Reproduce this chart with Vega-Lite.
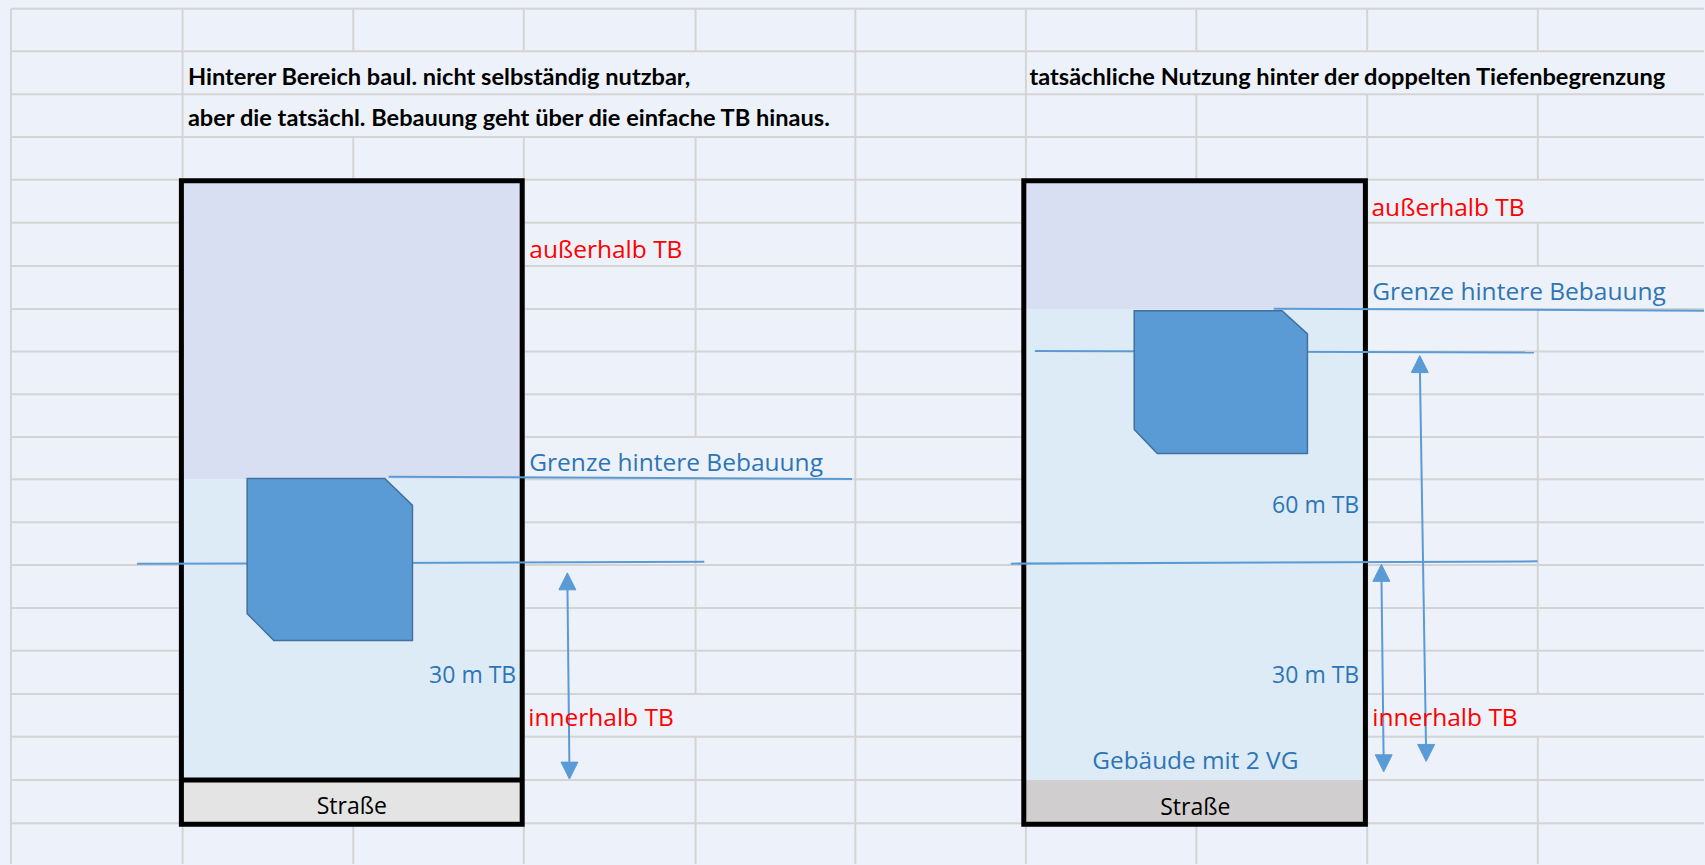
{
  "$schema": "https://vega.github.io/schema/vega-lite/v6.json",
  "width": 1705,
  "height": 865,
  "autosize": {"type": "fit", "contains": "padding"},
  "padding": 0,
  "background": "#edf2fa",
  "config": {"view": {"stroke": null}},
  "datasets": {
    "grid": [
      {"x1": 11, "x2": 1705, "y1": 8.7, "y2": 8.7},
      {"x1": 11, "x2": 1705, "y1": 51.3, "y2": 51.3},
      {"x1": 11, "x2": 1705, "y1": 94.4, "y2": 94.4},
      {"x1": 11, "x2": 1705, "y1": 137.1, "y2": 137.1},
      {"x1": 11, "x2": 1705, "y1": 179.9, "y2": 179.9},
      {"x1": 11, "x2": 1705, "y1": 222.9, "y2": 222.9},
      {"x1": 11, "x2": 1705, "y1": 266.2, "y2": 266.2},
      {"x1": 11, "x2": 1705, "y1": 309.3, "y2": 309.3},
      {"x1": 11, "x2": 1705, "y1": 351.8, "y2": 351.8},
      {"x1": 11, "x2": 1705, "y1": 394.8, "y2": 394.8},
      {"x1": 11, "x2": 1705, "y1": 437.5, "y2": 437.5},
      {"x1": 11, "x2": 1705, "y1": 479.8, "y2": 479.8},
      {"x1": 11, "x2": 1705, "y1": 522.8, "y2": 522.8},
      {"x1": 11, "x2": 1705, "y1": 565.6, "y2": 565.6},
      {"x1": 11, "x2": 1705, "y1": 608.8, "y2": 608.8},
      {"x1": 11, "x2": 1705, "y1": 651.6, "y2": 651.6},
      {"x1": 11, "x2": 1705, "y1": 694.8, "y2": 694.8},
      {"x1": 11, "x2": 1705, "y1": 737.6, "y2": 737.6},
      {"x1": 11, "x2": 1705, "y1": 780.8, "y2": 780.8},
      {"x1": 11, "x2": 1705, "y1": 824.2, "y2": 824.2},
      {"x1": 11, "x2": 11, "y1": 8.7, "y2": 865},
      {"x1": 182.7, "x2": 182.7, "y1": 8.7, "y2": 865},
      {"x1": 353.5, "x2": 353.5, "y1": 8.7, "y2": 51.3},
      {"x1": 353.5, "x2": 353.5, "y1": 137.1, "y2": 865},
      {"x1": 524.1, "x2": 524.1, "y1": 8.7, "y2": 51.3},
      {"x1": 524.1, "x2": 524.1, "y1": 137.1, "y2": 865},
      {"x1": 696, "x2": 696, "y1": 8.7, "y2": 51.3},
      {"x1": 696, "x2": 696, "y1": 137.1, "y2": 437.5},
      {"x1": 696, "x2": 696, "y1": 479.8, "y2": 694.8},
      {"x1": 696, "x2": 696, "y1": 737.6, "y2": 865},
      {"x1": 855.8, "x2": 855.8, "y1": 8.7, "y2": 865},
      {"x1": 1026.5, "x2": 1026.5, "y1": 8.7, "y2": 865},
      {"x1": 1197, "x2": 1197, "y1": 8.7, "y2": 51.3},
      {"x1": 1197, "x2": 1197, "y1": 94.4, "y2": 865},
      {"x1": 1368, "x2": 1368, "y1": 8.7, "y2": 51.3},
      {"x1": 1368, "x2": 1368, "y1": 94.4, "y2": 865},
      {"x1": 1538.7, "x2": 1538.7, "y1": 8.7, "y2": 51.3},
      {"x1": 1538.7, "x2": 1538.7, "y1": 94.4, "y2": 179.9},
      {"x1": 1538.7, "x2": 1538.7, "y1": 222.9, "y2": 266.2},
      {"x1": 1538.7, "x2": 1538.7, "y1": 309.3, "y2": 694.8},
      {"x1": 1538.7, "x2": 1538.7, "y1": 737.6, "y2": 865}
    ],
    "regions": [
      {"part": "upper", "x1": 181.5, "x2": 522.5, "y1": 181, "y2": 479.6},
      {"part": "lower", "x1": 181.5, "x2": 522.5, "y1": 479.6, "y2": 780.8},
      {"part": "streetL", "x1": 181.5, "x2": 522.5, "y1": 780.8, "y2": 825.3},
      {"part": "upper", "x1": 1024.4, "x2": 1366.2, "y1": 181, "y2": 309.3},
      {"part": "lower", "x1": 1024.4, "x2": 1366.2, "y1": 309.3, "y2": 781},
      {"part": "streetR", "x1": 1024.4, "x2": 1366.2, "y1": 781, "y2": 825.3}
    ],
    "frames": [
      {"x1": 181.5, "x2": 522.5, "y1": 181, "y2": 825.3},
      {"x1": 1024.4, "x2": 1366.2, "y1": 181, "y2": 825.3}
    ],
    "separators": [
      {"x1": 181.5, "x2": 522.5, "y1": 780.8, "y2": 780.8}
    ],
    "bluelines": [
      {"x1": 389, "x2": 852.5, "y1": 477.3, "y2": 479.6},
      {"x1": 137, "x2": 704.7, "y1": 564.5, "y2": 562.3},
      {"x1": 1274.5, "x2": 1705, "y1": 309, "y2": 311},
      {"x1": 1035.5, "x2": 1534.8, "y1": 351.3, "y2": 353},
      {"x1": 1011.4, "x2": 1538.5, "y1": 564.3, "y2": 562},
      {"x1": 567.7, "x2": 569.8, "y1": 580, "y2": 773},
      {"x1": 1382.2, "x2": 1384.5, "y1": 572, "y2": 765},
      {"x1": 1420.6, "x2": 1427, "y1": 363, "y2": 755}
    ],
    "buildings": [
      {"id": "L", "i": 1, "x": 247.3, "y": 479},
      {"id": "L", "i": 2, "x": 385, "y": 479},
      {"id": "L", "i": 3, "x": 412.7, "y": 506},
      {"id": "L", "i": 4, "x": 412.7, "y": 641.3},
      {"id": "L", "i": 5, "x": 274, "y": 641.3},
      {"id": "L", "i": 6, "x": 247.3, "y": 614.3},
      {"id": "R", "i": 1, "x": 1134.9, "y": 311},
      {"id": "R", "i": 2, "x": 1282.8, "y": 311},
      {"id": "R", "i": 3, "x": 1308.2, "y": 334.3},
      {"id": "R", "i": 4, "x": 1308.2, "y": 454},
      {"id": "R", "i": 5, "x": 1158, "y": 454},
      {"id": "R", "i": 6, "x": 1134.9, "y": 430}
    ],
    "heads": [
      {"id": "LT", "i": 1, "x": 567.7, "y": 573.5},
      {"id": "LT", "i": 2, "x": 559.2, "y": 590.5},
      {"id": "LT", "i": 3, "x": 576.2, "y": 590.5},
      {"id": "LB", "i": 1, "x": 569.8, "y": 780},
      {"id": "LB", "i": 2, "x": 561.3, "y": 763},
      {"id": "LB", "i": 3, "x": 578.3, "y": 763},
      {"id": "R1T", "i": 1, "x": 1382.2, "y": 565},
      {"id": "R1T", "i": 2, "x": 1373.7, "y": 582},
      {"id": "R1T", "i": 3, "x": 1390.7, "y": 582},
      {"id": "R1B", "i": 1, "x": 1384.5, "y": 772.7},
      {"id": "R1B", "i": 2, "x": 1376, "y": 755.7},
      {"id": "R1B", "i": 3, "x": 1393, "y": 755.7},
      {"id": "R2T", "i": 1, "x": 1420.6, "y": 356},
      {"id": "R2T", "i": 2, "x": 1412.1, "y": 373},
      {"id": "R2T", "i": 3, "x": 1429.1, "y": 373},
      {"id": "R2B", "i": 1, "x": 1427, "y": 762.3},
      {"id": "R2B", "i": 2, "x": 1418.5, "y": 745.3},
      {"id": "R2B", "i": 3, "x": 1435.5, "y": 745.3}
    ],
    "titles": [
      {"text": "Hinterer Bereich baul. nicht selbständig nutzbar,", "x": 188, "y": 85},
      {"text": "aber die tatsächl. Bebauung geht über die einfache TB hinaus.", "x": 188, "y": 126},
      {"text": "tatsächliche Nutzung hinter der doppelten Tiefenbegrenzung", "x": 1030, "y": 85}
    ],
    "labelsLeft": [
      {"text": "außerhalb TB", "tone": "red", "x": 529.6, "y": 258},
      {"text": "außerhalb TB", "tone": "red", "x": 1372.3, "y": 216},
      {"text": "Grenze hintere Bebauung", "tone": "blue", "x": 529.6, "y": 471.5},
      {"text": "Grenze hintere Bebauung", "tone": "blue", "x": 1373, "y": 300.5},
      {"text": "innerhalb TB", "tone": "red", "x": 528.6, "y": 727},
      {"text": "innerhalb TB", "tone": "red", "x": 1373, "y": 727}
    ],
    "labelsRight": [
      {"text": "30 m TB", "tone": "blue", "x": 516.5, "y": 684},
      {"text": "30 m TB", "tone": "blue", "x": 1360, "y": 684},
      {"text": "60 m TB", "tone": "blue", "x": 1360, "y": 514}
    ],
    "labelsCenter": [
      {"text": "Gebäude mit 2 VG", "tone": "blue", "x": 1196, "y": 770}
    ],
    "streets": [
      {"text": "Straße", "tone": "black", "x": 352, "y": 815},
      {"text": "Straße", "tone": "black", "x": 1196, "y": 815.5}
    ]
  },
  "layer": [
    {
      "data": {"name": "grid"},
      "mark": {"type": "rule", "color": "#d4d4d4", "strokeWidth": 2},
      "encoding": {
        "x": {"field": "x1", "type": "quantitative", "scale": {"domain": [0, 1705], "nice": false, "zero": false}, "axis": null},
        "x2": {"field": "x2"},
        "y": {"field": "y1", "type": "quantitative", "scale": {"domain": [0, 865], "reverse": true, "nice": false, "zero": false}, "axis": null},
        "y2": {"field": "y2"}
      }
    },
    {
      "data": {"name": "regions"},
      "mark": {"type": "rect"},
      "encoding": {
        "x": {"field": "x1", "type": "quantitative", "axis": null},
        "x2": {"field": "x2"},
        "y": {"field": "y1", "type": "quantitative", "axis": null},
        "y2": {"field": "y2"},
        "color": {"field": "part", "type": "nominal", "legend": null,
          "scale": {"domain": ["upper", "lower", "streetL", "streetR", "red", "blue", "black"],
                    "range": ["#d9dff2", "#ddebf7", "#e4e4e4", "#d0cece", "#ff0000", "#2e75b6", "#000000"]}}
      }
    },
    {
      "data": {"name": "frames"},
      "mark": {"type": "rect", "filled": false, "color": "#000000", "strokeWidth": 5},
      "encoding": {
        "x": {"field": "x1", "type": "quantitative", "axis": null},
        "x2": {"field": "x2"},
        "y": {"field": "y1", "type": "quantitative", "axis": null},
        "y2": {"field": "y2"}
      }
    },
    {
      "data": {"name": "separators"},
      "mark": {"type": "rule", "color": "#000000", "strokeWidth": 5},
      "encoding": {
        "x": {"field": "x1", "type": "quantitative", "axis": null},
        "x2": {"field": "x2"},
        "y": {"field": "y1", "type": "quantitative", "axis": null},
        "y2": {"field": "y2"}
      }
    },
    {
      "data": {"name": "bluelines"},
      "mark": {"type": "rule", "color": "#5b9bd5", "strokeWidth": 2},
      "encoding": {
        "x": {"field": "x1", "type": "quantitative", "axis": null},
        "x2": {"field": "x2"},
        "y": {"field": "y1", "type": "quantitative", "axis": null},
        "y2": {"field": "y2"}
      }
    },
    {
      "data": {"name": "buildings"},
      "mark": {"type": "line", "interpolate": "linear-closed", "fill": "#5b9bd5", "stroke": "#41719c", "strokeWidth": 1.5},
      "encoding": {
        "x": {"field": "x", "type": "quantitative", "axis": null},
        "y": {"field": "y", "type": "quantitative", "axis": null},
        "detail": {"field": "id"},
        "order": {"field": "i", "type": "quantitative"}
      }
    },
    {
      "data": {"name": "heads"},
      "mark": {"type": "line", "interpolate": "linear-closed", "fill": "#5b9bd5", "stroke": "#5b9bd5", "strokeWidth": 1},
      "encoding": {
        "x": {"field": "x", "type": "quantitative", "axis": null},
        "y": {"field": "y", "type": "quantitative", "axis": null},
        "detail": {"field": "id"},
        "order": {"field": "i", "type": "quantitative"}
      }
    },
    {
      "data": {"name": "titles"},
      "mark": {"type": "text", "font": "Lato", "fontWeight": "bold", "fontSize": 23.6, "align": "left", "baseline": "alphabetic", "color": "#000000"},
      "encoding": {
        "x": {"field": "x", "type": "quantitative", "axis": null},
        "y": {"field": "y", "type": "quantitative", "axis": null},
        "text": {"field": "text"}
      }
    },
    {
      "data": {"name": "labelsLeft"},
      "mark": {"type": "text", "font": "Open Sans", "fontSize": 24.5, "align": "left", "baseline": "alphabetic"},
      "encoding": {
        "x": {"field": "x", "type": "quantitative", "axis": null},
        "y": {"field": "y", "type": "quantitative", "axis": null},
        "text": {"field": "text"},
        "color": {"field": "tone", "type": "nominal", "legend": null}
      }
    },
    {
      "data": {"name": "labelsRight"},
      "mark": {"type": "text", "font": "Open Sans", "fontSize": 23, "align": "right", "baseline": "alphabetic"},
      "encoding": {
        "x": {"field": "x", "type": "quantitative", "axis": null},
        "y": {"field": "y", "type": "quantitative", "axis": null},
        "text": {"field": "text"},
        "color": {"field": "tone", "type": "nominal", "legend": null}
      }
    },
    {
      "data": {"name": "labelsCenter"},
      "mark": {"type": "text", "font": "Open Sans", "fontSize": 24.4, "align": "center", "baseline": "alphabetic"},
      "encoding": {
        "x": {"field": "x", "type": "quantitative", "axis": null},
        "y": {"field": "y", "type": "quantitative", "axis": null},
        "text": {"field": "text"},
        "color": {"field": "tone", "type": "nominal", "legend": null}
      }
    },
    {
      "data": {"name": "streets"},
      "mark": {"type": "text", "font": "Open Sans", "fontSize": 23, "align": "center", "baseline": "alphabetic"},
      "encoding": {
        "x": {"field": "x", "type": "quantitative", "axis": null},
        "y": {"field": "y", "type": "quantitative", "axis": null},
        "text": {"field": "text"},
        "color": {"field": "tone", "type": "nominal", "legend": null}
      }
    }
  ]
}
